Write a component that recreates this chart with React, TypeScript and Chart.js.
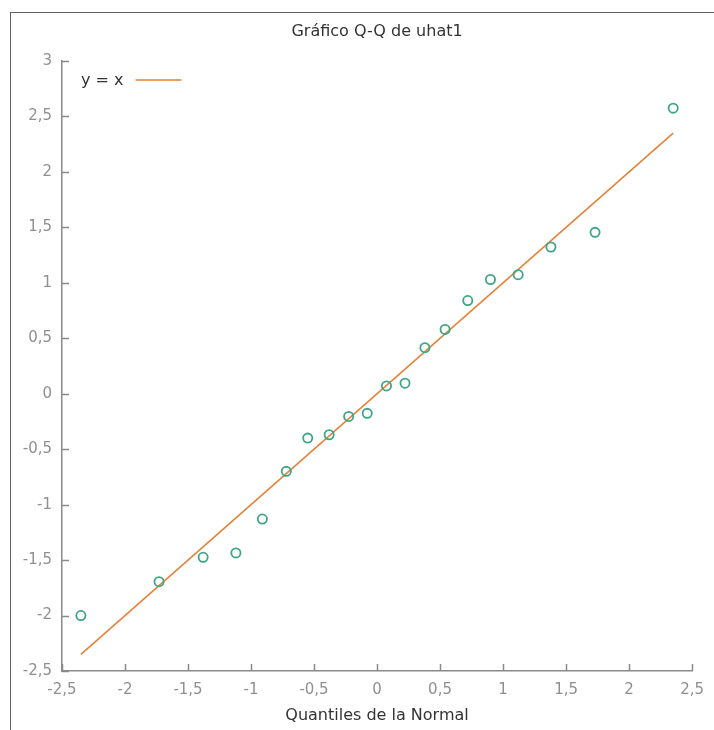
import React, { useEffect, useRef } from 'react';
import { Chart, registerables } from 'chart.js';

Chart.register(...registerables);

const TITLE = 'Gráfico Q-Q de uhat1';
const X_TITLE = 'Quantiles de la Normal';
const LINE_LABEL = 'y = x';

// Normal quantiles (x) and sample quantiles of uhat1 (y)
const normalQuantiles = [
  -2.35, -1.73, -1.38, -1.12, -0.91, -0.72, -0.55, -0.38, -0.225, -0.078,
  0.075, 0.222, 0.38, 0.54, 0.72, 0.9, 1.12, 1.38, 1.73, 2.35,
];
const sampleQuantiles = [
  -2.0, -1.695, -1.475, -1.435, -1.13, -0.70, -0.40, -0.37, -0.205, -0.177,
  0.07, 0.095, 0.415, 0.58, 0.84, 1.03, 1.073, 1.323, 1.455, 2.575,
];

const X_MIN = -2.5;
const X_MAX = 2.5;
const Y_MIN = -2.5;
const Y_MAX = 3;
const TICK_STEP = 0.5;

const POINT_COLOR = '#3ea585';
const LINE_COLOR = '#e5823a';
const AXIS_COLOR = '#8a8a8a';
const TICK_LABEL_COLOR = '#8f8f8f';
const TEXT_COLOR = '#333333';
const FONT_FAMILY = '"DejaVu Sans", Verdana, sans-serif';

const fmt = (v: number) => String(Math.round(v * 10) / 10).replace('.', ',');

const innerTicksPlugin = {
  id: 'innerTicks',
  afterDraw(chart: any) {
    const { ctx, chartArea, scales } = chart;
    const xs = scales.x;
    const ys = scales.y;
    ctx.save();
    ctx.strokeStyle = AXIS_COLOR;
    ctx.lineWidth = 1.5;
    const len = 7;
    xs.ticks.forEach((t: any) => {
      const px = Math.round(xs.getPixelForValue(t.value)) + 0.5;
      ctx.beginPath();
      ctx.moveTo(px, chartArea.bottom);
      ctx.lineTo(px, chartArea.bottom - len);
      ctx.stroke();
    });
    ys.ticks.forEach((t: any) => {
      const py = Math.round(ys.getPixelForValue(t.value)) + 0.5;
      ctx.beginPath();
      ctx.moveTo(chartArea.left, py);
      ctx.lineTo(chartArea.left + len, py);
      ctx.stroke();
    });
    ctx.restore();
  },
};

const insideLegendPlugin = {
  id: 'insideLegend',
  afterDraw(chart: any) {
    const { ctx, chartArea } = chart;
    const ds = chart.data.datasets.find((d: any) => d.showLine);
    if (!ds) return;
    ctx.save();
    ctx.font = `16px ${FONT_FAMILY}`;
    ctx.fillStyle = TEXT_COLOR;
    ctx.textBaseline = 'middle';
    ctx.textAlign = 'left';
    const tx = chartArea.left + 19;
    const ty = chartArea.top + 20;
    ctx.fillText(ds.label, tx, ty);
    const w = ctx.measureText(ds.label).width;
    ctx.strokeStyle = ds.borderColor;
    ctx.lineWidth = 1.5;
    ctx.beginPath();
    ctx.moveTo(tx + w + 12, ty - 1);
    ctx.lineTo(tx + w + 58, ty - 1);
    ctx.stroke();
    ctx.restore();
  },
};

export default function App() {
  const canvasRef = useRef<HTMLCanvasElement | null>(null);

  useEffect(() => {
    const canvas = canvasRef.current;
    if (!canvas) return;
    const lo = Math.min(...normalQuantiles);
    const hi = Math.max(...normalQuantiles);
    const chart = new Chart(canvas, {
      type: 'scatter',
      data: {
        datasets: [
          {
            label: 'uhat1',
            data: normalQuantiles.map((x, i) => ({ x, y: sampleQuantiles[i] })),
            pointRadius: 4.6,
            pointBorderWidth: 1.8,
            pointBorderColor: POINT_COLOR,
            pointBackgroundColor: 'rgba(0,0,0,0)',
            showLine: false,
          },
          {
            label: LINE_LABEL,
            data: [
              { x: lo, y: lo },
              { x: hi, y: hi },
            ],
            showLine: true,
            borderColor: LINE_COLOR,
            borderWidth: 1.6,
            pointRadius: 0,
            fill: false,
          },
        ],
      },
      options: {
        animation: false,
        responsive: false,
        maintainAspectRatio: false,
        layout: { padding: { top: 10, right: 20, left: 0, bottom: 0 } },
        plugins: {
          legend: { display: false },
          tooltip: { enabled: false },
          title: {
            display: true,
            text: TITLE,
            fullSize: false,
            color: TEXT_COLOR,
            font: { family: FONT_FAMILY, size: 16, weight: 'normal' },
            padding: { top: 12.4, bottom: 19.4 },
          },
        },
        scales: {
          x: {
            type: 'linear',
            min: X_MIN,
            max: X_MAX,
            afterFit: (s: any) => {
              s.height = 59;
            },
            afterBuildTicks: (s: any) => {
              const t = [];
              for (let v = X_MIN; v <= X_MAX + 1e-9; v += TICK_STEP) t.push({ value: Math.round(v * 10) / 10 });
              s.ticks = t;
            },
            grid: { display: false, drawTicks: false },
            border: { display: true, color: AXIS_COLOR, width: 1.5 },
            ticks: {
              padding: 10,
              color: TICK_LABEL_COLOR,
              font: { family: FONT_FAMILY, size: 15 },
              maxRotation: 0,
              autoSkip: false,
              callback: (v: any) => fmt(Number(v)),
            },
            title: {
              display: true,
              text: X_TITLE,
              color: TEXT_COLOR,
              font: { family: FONT_FAMILY, size: 16 },
              padding: { top: 0, bottom: 4.4 },
            },
          },
          y: {
            type: 'linear',
            min: Y_MIN,
            max: Y_MAX,
            afterFit: (s: any) => {
              s.width = 62;
            },
            afterBuildTicks: (s: any) => {
              const t = [];
              for (let v = Y_MIN; v <= Y_MAX + 1e-9; v += TICK_STEP) t.push({ value: Math.round(v * 10) / 10 });
              s.ticks = t;
            },
            grid: { display: false, drawTicks: false },
            border: { display: true, color: AXIS_COLOR, width: 1.5 },
            ticks: {
              padding: 10,
              color: TICK_LABEL_COLOR,
              font: { family: FONT_FAMILY, size: 15 },
              autoSkip: false,
              callback: (v: any) => fmt(Number(v)),
            },
          },
        },
      },
      plugins: [innerTicksPlugin, insideLegendPlugin],
    } as any);
    return () => chart.destroy();
  }, []);

  return (
    <div
      style={{
        position: 'fixed',
        left: 0,
        top: 0,
        width: 714,
        height: 730,
        overflow: 'hidden',
        background: '#ffffff',
      }}
    >
      <div
        style={{
          position: 'absolute',
          left: 10,
          top: 12,
          width: 800,
          height: 800,
          borderLeft: '1px solid #606060',
          borderTop: '1px solid #606060',
        }}
      />
      <canvas
        ref={canvasRef}
        width={714}
        height={730}
        style={{ position: 'absolute', left: 0, top: 0, width: 714, height: 730 }}
      />
    </div>
  );
}
